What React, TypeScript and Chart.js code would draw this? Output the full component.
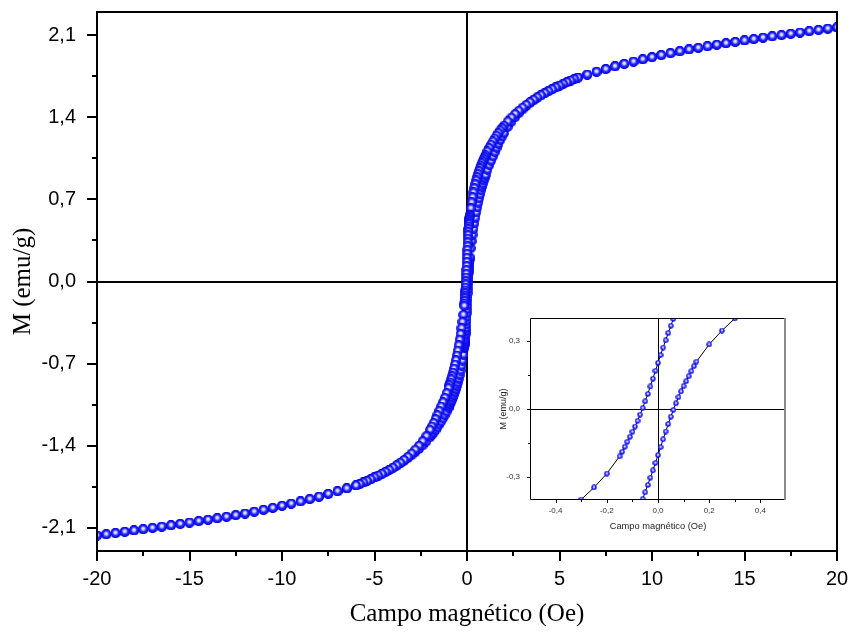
import React, { useEffect, useRef } from 'react';
import { Chart, registerables } from 'chart.js';

Chart.register(...registerables);

// Descending branch (field swept from +20 Oe to -20 Oe)
const fieldDown = [
  20, 19.5, 19, 18.5, 18, 17.5, 17, 16.5, 16, 15.5, 15, 14.5, 14, 13.5, 13, 12.5, 12, 11.5, 11, 10.5, 10, 9.5, 9, 8.5, 8, 7.5, 7, 6.5,
  6, 5.8, 5.6, 5.4, 5.2, 5, 4.8, 4.6, 4.4, 4.2, 4, 3.8, 3.6, 3.4, 3.2, 3, 2.8, 2.6, 2.4, 2.2, 2,
  1.9, 1.8, 1.7, 1.6, 1.5, 1.4, 1.3, 1.2, 1.1, 1,
  0.95, 0.9, 0.85, 0.8, 0.75, 0.7, 0.65, 0.6, 0.55, 0.5, 0.45, 0.4, 0.35, 0.3, 0.25, 0.2,
  0.15, 0.14, 0.13, 0.12, 0.11, 0.1, 0.09, 0.08, 0.07, 0.06, 0.05, 0.04, 0.03, 0.02, 0.01, 0,
  -0.01, -0.02, -0.03, -0.04, -0.05, -0.06, -0.07, -0.08, -0.09, -0.1, -0.11, -0.12, -0.13, -0.14, -0.15,
  -0.2, -0.25, -0.3, -0.35, -0.4, -0.45, -0.5, -0.55, -0.6, -0.65, -0.7, -0.75, -0.8, -0.85, -0.9, -0.95,
  -1, -1.1, -1.2, -1.3, -1.4, -1.5, -1.6, -1.7, -1.8, -1.9,
  -2, -2.2, -2.4, -2.6, -2.8, -3, -3.2, -3.4, -3.6, -3.8, -4, -4.2, -4.4, -4.6, -4.8, -5, -5.2, -5.4, -5.6, -5.8, -6,
  -6.5, -7, -7.5, -8, -8.5, -9, -9.5, -10, -10.5, -11, -11.5, -12, -12.5, -13, -13.5, -14, -14.5, -15, -15.5, -16, -16.5, -17, -17.5, -18, -18.5, -19, -19.5, -20,
];
const momentDown = [
  2.168, 2.158, 2.147, 2.136, 2.125, 2.114, 2.103, 2.092, 2.081, 2.069, 2.057, 2.045, 2.033, 2.021, 2.008, 1.994, 1.98, 1.965, 1.949, 1.932, 1.914, 1.896, 1.877, 1.857, 1.836, 1.813, 1.79, 1.766,
  1.741, 1.728, 1.715, 1.701, 1.687, 1.672, 1.657, 1.641, 1.625, 1.608, 1.59, 1.571, 1.551, 1.53, 1.507, 1.483, 1.457, 1.429, 1.399, 1.366, 1.33,
  1.31, 1.289, 1.267, 1.244, 1.22, 1.195, 1.168, 1.14, 1.11, 1.078,
  1.062, 1.045, 1.027, 1.008, 0.988, 0.966, 0.943, 0.918, 0.891, 0.862, 0.831, 0.797, 0.76, 0.72, 0.675, 0.625,
  0.569, 0.555, 0.54, 0.524, 0.507, 0.489, 0.469, 0.447, 0.423, 0.396, 0.366, 0.334, 0.302, 0.27, 0.237, 0.203,
  0.168, 0.133, 0.099, 0.066, 0.034, 0.004, -0.025, -0.052, -0.077, -0.1, -0.122, -0.144, -0.166, -0.188, -0.208,
  -0.284, -0.345, -0.398, -0.448, -0.497, -0.545, -0.59, -0.632, -0.672, -0.709, -0.744, -0.778, -0.808, -0.835, -0.862, -0.885,
  -0.909, -0.953, -0.993, -1.03, -1.067, -1.104, -1.14, -1.174, -1.207, -1.238,
  -1.266, -1.32, -1.363, -1.402, -1.436, -1.468, -1.497, -1.523, -1.547, -1.569, -1.589, -1.608, -1.625, -1.641, -1.657, -1.672, -1.687, -1.701, -1.715, -1.728, -1.741,
  -1.766, -1.79, -1.813, -1.836, -1.857, -1.877, -1.896, -1.914, -1.932, -1.949, -1.965, -1.98, -1.994, -2.008, -2.021, -2.033, -2.045, -2.057, -2.069, -2.081, -2.092, -2.103, -2.114, -2.125, -2.136, -2.147, -2.158, -2.168,
];

// Ascending branch (field swept from -20 Oe to +20 Oe)
const fieldUp = [
  -20, -19.5, -19, -18.5, -18, -17.5, -17, -16.5, -16, -15.5, -15, -14.5, -14, -13.5, -13, -12.5, -12, -11.5, -11, -10.5, -10, -9.5, -9, -8.5, -8, -7.5, -7, -6.5,
  -6, -5.8, -5.6, -5.4, -5.2, -5, -4.8, -4.6, -4.4, -4.2, -4, -3.8, -3.6, -3.4, -3.2, -3, -2.8, -2.6, -2.4, -2.2, -2,
  -1.9, -1.8, -1.7, -1.6, -1.5, -1.4, -1.3, -1.2, -1.1, -1,
  -0.95, -0.9, -0.85, -0.8, -0.75, -0.7, -0.65, -0.6, -0.55, -0.5, -0.45, -0.4, -0.35, -0.3, -0.25, -0.2,
  -0.15, -0.14, -0.13, -0.12, -0.11, -0.1, -0.09, -0.08, -0.07, -0.06, -0.05, -0.04, -0.03, -0.02, -0.01, 0,
  0.01, 0.02, 0.03, 0.04, 0.05, 0.06, 0.07, 0.08, 0.09, 0.1, 0.11, 0.12, 0.13, 0.14, 0.15,
  0.2, 0.25, 0.3, 0.35, 0.4, 0.45, 0.5, 0.55, 0.6, 0.65, 0.7, 0.75, 0.8, 0.85, 0.9, 0.95,
  1, 1.1, 1.2, 1.3, 1.4, 1.5, 1.6, 1.7, 1.8, 1.9,
  2, 2.2, 2.4, 2.6, 2.8, 3, 3.2, 3.4, 3.6, 3.8, 4, 4.2, 4.4, 4.6, 4.8, 5, 5.2, 5.4, 5.6, 5.8, 6,
  6.5, 7, 7.5, 8, 8.5, 9, 9.5, 10, 10.5, 11, 11.5, 12, 12.5, 13, 13.5, 14, 14.5, 15, 15.5, 16, 16.5, 17, 17.5, 18, 18.5, 19, 19.5, 20,
];
const momentUp = [
  -2.168, -2.158, -2.147, -2.136, -2.125, -2.114, -2.103, -2.092, -2.081, -2.069, -2.057, -2.045, -2.033, -2.021, -2.008, -1.994, -1.98, -1.965, -1.949, -1.932, -1.914, -1.896, -1.877, -1.857, -1.836, -1.813, -1.79, -1.766,
  -1.741, -1.728, -1.715, -1.701, -1.687, -1.672, -1.657, -1.641, -1.625, -1.608, -1.59, -1.571, -1.551, -1.53, -1.507, -1.483, -1.457, -1.429, -1.399, -1.366, -1.33,
  -1.31, -1.289, -1.267, -1.244, -1.22, -1.195, -1.168, -1.14, -1.11, -1.078,
  -1.062, -1.045, -1.027, -1.008, -0.988, -0.966, -0.943, -0.918, -0.891, -0.862, -0.831, -0.797, -0.76, -0.72, -0.675, -0.625,
  -0.569, -0.555, -0.54, -0.524, -0.507, -0.489, -0.469, -0.447, -0.423, -0.396, -0.366, -0.334, -0.302, -0.27, -0.237, -0.203,
  -0.168, -0.133, -0.099, -0.066, -0.034, -0.004, 0.025, 0.052, 0.077, 0.1, 0.122, 0.144, 0.166, 0.188, 0.208,
  0.284, 0.345, 0.398, 0.448, 0.497, 0.545, 0.59, 0.632, 0.672, 0.709, 0.744, 0.778, 0.808, 0.835, 0.862, 0.885,
  0.909, 0.953, 0.993, 1.03, 1.067, 1.104, 1.14, 1.174, 1.207, 1.238,
  1.266, 1.32, 1.363, 1.402, 1.436, 1.468, 1.497, 1.523, 1.547, 1.569, 1.589, 1.608, 1.625, 1.641, 1.657, 1.672, 1.687, 1.701, 1.715, 1.728, 1.741,
  1.766, 1.79, 1.813, 1.836, 1.857, 1.877, 1.896, 1.914, 1.932, 1.949, 1.965, 1.98, 1.994, 2.008, 2.021, 2.033, 2.045, 2.057, 2.069, 2.081, 2.092, 2.103, 2.114, 2.125, 2.136, 2.147, 2.158, 2.168,
];

// Main chart ticks
const mainXTicks = [-20, -15, -10, -5, 0, 5, 10, 15, 20];
const mainXMinor = [-17.5, -12.5, -7.5, -2.5, 2.5, 7.5, 12.5, 17.5];
const mainYTicks = [-2.1, -1.4, -0.7, 0, 0.7, 1.4, 2.1];
const mainYMinor = [-1.75, -1.05, -0.35, 0.35, 1.05, 1.75];

// Inset ticks
const insetXTicks = [-0.4, -0.2, 0, 0.2, 0.4];
const insetXMinor = [-0.3, -0.1, 0.1, 0.3];
const insetYTicks = [-0.3, 0, 0.3];
const insetYMinor = [-0.15, 0.15];

const xTitle = 'Campo magnético (Oe)';
const yTitle = 'M (emu/g)';

const SANS = "'Liberation Sans', Arial, sans-serif";
const SERIF = "'Liberation Serif', 'Times New Roman', serif";

const fmtComma = (v: number) => v.toFixed(1).replace('.', ',');

function makeSprite(r: number) {
  const size = Math.ceil(r * 2);
  const c = document.createElement('canvas');
  c.width = size;
  c.height = size;
  const ctx = c.getContext('2d')!;
  const cx = size / 2;
  const cy = size / 2;
  const g = ctx.createRadialGradient(cx, cy - r * 0.2, 0, cx, cy, r);
  g.addColorStop(0, '#ffffff');
  g.addColorStop(0.3, '#c4c4ff');
  g.addColorStop(0.58, '#2a2aff');
  g.addColorStop(1, '#0000e0');
  ctx.fillStyle = g;
  ctx.beginPath();
  ctx.arc(cx, cy, r, 0, Math.PI * 2);
  ctx.fill();
  return c;
}

function toPoints(xs: number[], ys: number[]) {
  return xs.map((x, i) => ({ x, y: ys[i] }));
}

function fixBox(size: { width?: number; height?: number }) {
  return (s: any) => {
    if (size.width !== undefined) s.width = size.width;
    if (size.height !== undefined) s.height = size.height;
    s.paddingTop = 0;
    s.paddingBottom = 0;
    s.paddingLeft = 0;
    s.paddingRight = 0;
  };
}

const mainAxesPlugin = {
  id: 'mainAxes',
  beforeDatasetsDraw(chart: any) {
    const { ctx, chartArea: a, scales } = chart;
    const x0 = Math.round(scales.x.getPixelForValue(0));
    const y0 = Math.round(scales.y.getPixelForValue(0));
    ctx.save();
    ctx.strokeStyle = '#000';
    ctx.lineWidth = 2;
    ctx.beginPath();
    ctx.moveTo(a.left, y0);
    ctx.lineTo(a.right, y0);
    ctx.moveTo(x0, a.top);
    ctx.lineTo(x0, a.bottom);
    ctx.stroke();
    ctx.restore();
  },
  afterDatasetsDraw(chart: any) {
    const { ctx, chartArea: a, scales } = chart;
    ctx.save();
    ctx.strokeStyle = '#000';
    ctx.lineWidth = 2;
    ctx.strokeRect(a.left, a.top, a.right - a.left, a.bottom - a.top);
    ctx.beginPath();
    mainYTicks.forEach((v) => {
      const p = Math.round(scales.y.getPixelForValue(v));
      ctx.moveTo(a.left - 10, p);
      ctx.lineTo(a.left, p);
    });
    mainYMinor.forEach((v) => {
      const p = Math.round(scales.y.getPixelForValue(v));
      ctx.moveTo(a.left - 5, p);
      ctx.lineTo(a.left, p);
    });
    mainXTicks.forEach((v) => {
      const p = Math.round(scales.x.getPixelForValue(v));
      ctx.moveTo(p, a.bottom);
      ctx.lineTo(p, a.bottom + 10);
    });
    mainXMinor.forEach((v) => {
      const p = Math.round(scales.x.getPixelForValue(v));
      ctx.moveTo(p, a.bottom);
      ctx.lineTo(p, a.bottom + 5);
    });
    ctx.stroke();
    ctx.restore();
  },
};

const insetAxesPlugin = {
  id: 'insetAxes',
  beforeDatasetsDraw(chart: any) {
    const { ctx, chartArea: a, scales } = chart;
    const x0 = Math.round(scales.x.getPixelForValue(0)) + 0.5;
    const y0 = Math.round(scales.y.getPixelForValue(0)) + 0.5;
    ctx.save();
    ctx.strokeStyle = '#000';
    ctx.lineWidth = 1;
    ctx.beginPath();
    ctx.moveTo(a.left, y0);
    ctx.lineTo(a.right, y0);
    ctx.moveTo(x0, a.top);
    ctx.lineTo(x0, a.bottom);
    ctx.stroke();
    ctx.restore();
  },
  afterDatasetsDraw(chart: any) {
    const { ctx, chartArea: a, scales } = chart;
    ctx.save();
    ctx.strokeStyle = '#000';
    ctx.lineWidth = 1;
    ctx.beginPath();
    ctx.moveTo(a.right, a.top + 0.5);
    ctx.lineTo(a.left + 0.5, a.top + 0.5);
    ctx.lineTo(a.left + 0.5, a.bottom - 0.5);
    ctx.lineTo(a.right, a.bottom - 0.5);
    insetYTicks.forEach((v) => {
      const p = Math.round(scales.y.getPixelForValue(v)) + 0.5;
      ctx.moveTo(a.left - 3, p);
      ctx.lineTo(a.left, p);
    });
    insetYMinor.forEach((v) => {
      const p = Math.round(scales.y.getPixelForValue(v)) + 0.5;
      ctx.moveTo(a.left - 2, p);
      ctx.lineTo(a.left, p);
    });
    insetXTicks.forEach((v) => {
      const p = Math.round(scales.x.getPixelForValue(v)) + 0.5;
      ctx.moveTo(p, a.bottom);
      ctx.lineTo(p, a.bottom + 3);
    });
    insetXMinor.forEach((v) => {
      const p = Math.round(scales.x.getPixelForValue(v)) + 0.5;
      ctx.moveTo(p, a.bottom);
      ctx.lineTo(p, a.bottom + 2);
    });
    ctx.stroke();
    ctx.strokeStyle = '#8a8a8a';
    ctx.lineWidth = 2;
    ctx.beginPath();
    ctx.moveTo(a.right - 1, a.top);
    ctx.lineTo(a.right - 1, a.bottom);
    ctx.stroke();
    ctx.restore();
  },
};

export default function App() {
  const mainRef = useRef<HTMLCanvasElement>(null);
  const insetRef = useRef<HTMLCanvasElement>(null);

  useEffect(() => {
    if (!mainRef.current || !insetRef.current) return;
    const bigSprite = makeSprite(4.9);
    const smallSprite = makeSprite(2.7);

    const main = new Chart(mainRef.current, {
      type: 'scatter',
      data: {
        datasets: [
          {
            data: toPoints(fieldDown, momentDown),
            pointStyle: bigSprite as any,
            showLine: false,
          },
          {
            data: toPoints(fieldUp, momentUp),
            pointStyle: bigSprite as any,
            showLine: false,
          },
        ],
      },
      options: {
        animation: false,
        responsive: false,
        devicePixelRatio: 1,
        events: [],
        layout: { padding: { top: 12, right: 13, left: 0, bottom: 0 } },
        plugins: { legend: { display: false }, tooltip: { enabled: false } },
        scales: {
          x: {
            type: 'linear',
            min: -20,
            max: 20,
            afterBuildTicks: (s: any) => {
              s.ticks = mainXTicks.map((v) => ({ value: v }));
            },
            afterFit: fixBox({ height: 82 }),
            grid: { display: false, drawTicks: false },
            border: { display: false },
            ticks: {
              autoSkip: false,
              maxRotation: 0,
              padding: 16,
              color: '#000',
              font: { family: SANS, size: 20 },
              callback: (v: any) => String(v),
            },
            title: {
              display: true,
              text: xTitle,
              color: '#000',
              font: { family: SERIF, size: 25 },
              padding: { top: 0, bottom: 4 },
            },
          },
          y: {
            type: 'linear',
            min: -2.3,
            max: 2.3,
            afterBuildTicks: (s: any) => {
              s.ticks = mainYTicks.map((v) => ({ value: v }));
            },
            afterFit: fixBox({ width: 97 }),
            grid: { display: false, drawTicks: false },
            border: { display: false },
            ticks: {
              autoSkip: false,
              padding: 21,
              color: '#000',
              font: { family: SANS, size: 20 },
              callback: (v: any) => fmtComma(Number(v)),
            },
            title: {
              display: true,
              text: yTitle,
              color: '#000',
              font: { family: SERIF, size: 25 },
              padding: { top: 8, bottom: 0 },
            },
          },
        },
      } as any,
      plugins: [mainAxesPlugin],
    });

    const inset = new Chart(insetRef.current, {
      type: 'scatter',
      data: {
        datasets: [
          {
            data: toPoints(fieldDown, momentDown),
            pointStyle: smallSprite as any,
            showLine: true,
            borderColor: '#000',
            borderWidth: 1,
            clip: 0,
          },
          {
            data: toPoints(fieldUp, momentUp),
            pointStyle: smallSprite as any,
            showLine: true,
            borderColor: '#000',
            borderWidth: 1,
            clip: 0,
          },
        ],
      },
      options: {
        animation: false,
        responsive: false,
        devicePixelRatio: 1,
        events: [],
        layout: { padding: { top: 18, right: 14, left: 0, bottom: 0 } },
        plugins: { legend: { display: false }, tooltip: { enabled: false } },
        scales: {
          x: {
            type: 'linear',
            min: -0.5,
            max: 0.5,
            afterBuildTicks: (s: any) => {
              s.ticks = insetXTicks.map((v) => ({ value: v }));
            },
            afterFit: fixBox({ height: 45 }),
            grid: { display: false, drawTicks: false },
            border: { display: false },
            ticks: {
              autoSkip: false,
              maxRotation: 0,
              padding: 6,
              color: '#333',
              font: { family: SANS, size: 8 },
              callback: (v: any) => fmtComma(Number(v)),
            },
            title: {
              display: true,
              text: xTitle,
              color: '#222',
              font: { family: SANS, size: 9.3 },
              padding: { top: 0, bottom: 12.7 },
            },
          },
          y: {
            type: 'linear',
            min: -0.4,
            max: 0.4,
            afterBuildTicks: (s: any) => {
              s.ticks = insetYTicks.map((v) => ({ value: v }));
            },
            afterFit: fixBox({ width: 50 }),
            grid: { display: false, drawTicks: false },
            border: { display: false },
            ticks: {
              autoSkip: false,
              padding: 10,
              color: '#333',
              font: { family: SANS, size: 8 },
              callback: (v: any) => fmtComma(Number(v)),
            },
            title: {
              display: true,
              text: yTitle,
              color: '#222',
              font: { family: SANS, size: 9 },
              padding: { top: 18.6, bottom: 0 },
            },
          },
        },
      } as any,
      plugins: [insetAxesPlugin],
    });

    return () => {
      main.destroy();
      inset.destroy();
    };
  }, []);

  return (
    <div style={{ position: 'absolute', left: 0, top: 0, width: 850, height: 633, background: '#fff' }}>
      <canvas ref={mainRef} width={850} height={633} style={{ position: 'absolute', left: 0, top: 0 }} />
      <canvas ref={insetRef} width={320} height={245} style={{ position: 'absolute', left: 480, top: 300 }} />
    </div>
  );
}
